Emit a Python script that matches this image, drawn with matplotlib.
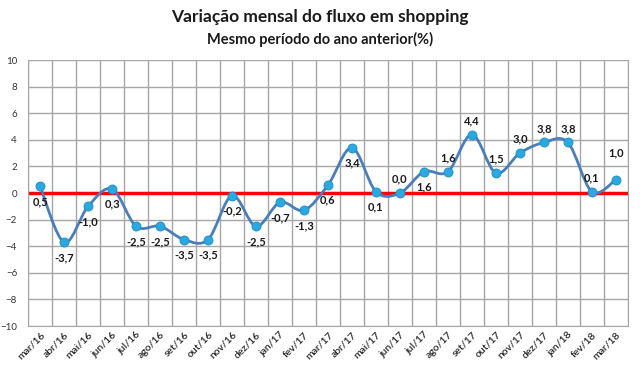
import matplotlib.pyplot as plt
import numpy as np
from matplotlib.path import Path
from matplotlib.patches import PathPatch

plt.rcParams['font.family'] = ['Lato', 'DejaVu Sans']

meses = ["mar/16", "abr/16", "mai/16", "jun/16", "jul/16", "ago/16", "set/16",
         "out/16", "nov/16", "dez/16", "jan/17", "fev/17", "mar/17", "abr/17",
         "mai/17", "jun/17", "jul/17", "ago/17", "set/17", "out/17", "nov/17",
         "dez/17", "jan/18", "fev/18", "mar/18"]
variacao = [0.5, -3.7, -1.0, 0.3, -2.5, -2.5, -3.5, -3.5, -0.2, -2.5, -0.7, -1.3,
            0.6, 3.4, 0.1, 0.0, 1.6, 1.6, 4.4, 1.5, 3.0, 3.8, 3.8, 0.1, 1.0]

# rotulos acima do ponto (os outros ficam abaixo)
acima = {"jun/17", "ago/17", "set/17", "out/17", "nov/17", "dez/17", "jan/18", "fev/18", "mar/18"}

fig = plt.figure(figsize=(6.4, 3.73), dpi=100)
ax = fig.add_axes([0.044, 0.126, 0.937, 0.713])

x = np.arange(len(meses))
y = np.array(variacao)

ax.set_xlim(-0.5, len(meses) - 0.5)
ax.set_ylim(-10, 10)
ax.set_yticks(np.arange(-10, 11, 2))
ax.set_xticks(x)
ax.set_xticklabels(meses, rotation=45, ha='right', rotation_mode='anchor', fontsize=7.5,
                   color='#262626', fontweight='semibold')
ax.tick_params(axis='y', labelsize=7, colors='#333333', length=0, pad=8)
ax.tick_params(axis='x', length=0, pad=3)

# grade
for b in np.arange(-0.5, len(meses), 1.0):
    ax.axvline(b, color='#a6a6a6', lw=1, zorder=0)
ax.grid(axis='y', color='#a6a6a6', lw=1, zorder=0)
for s in ax.spines.values():
    s.set_color('#a6a6a6')
ax.spines['top'].set_visible(False)

ax.axhline(0, color='#ff0000', lw=2.5, zorder=2)

# linha suavizada (bezier estilo Excel)
pts = np.column_stack([x, y])
verts = [tuple(pts[0])]
codes = [Path.MOVETO]
n = len(pts)
for i in range(n - 1):
    p0 = pts[max(i - 1, 0)]
    p1 = pts[i]
    p2 = pts[i + 1]
    p3 = pts[min(i + 2, n - 1)]
    c1 = p1 + (p2 - p0) / 6.0
    c2 = p2 - (p3 - p1) / 6.0
    verts += [tuple(c1), tuple(c2), tuple(p2)]
    codes += [Path.CURVE4] * 3
ax.add_patch(PathPatch(Path(verts, codes), fill=False, edgecolor='#4a7ebb', lw=2, zorder=3))

ax.plot(x, y, linestyle='none', marker='o', markersize=6.5, markerfacecolor='#2aa8e0',
        markeredgecolor='#1b8cc4', markeredgewidth=0.6, zorder=4)

for xi, yi, m in zip(x, y, meses):
    txt = f"{yi:.1f}".replace('.', ',')
    off = 10 if m in acima else -11
    if m == "mar/18":
        off = 19
    ax.annotate(txt, (xi, yi), xytext=(0, off), textcoords='offset points',
                ha='center', va='center', fontsize=8, fontweight='bold', color='#1a1a1a', zorder=5)

fig.text(0.5, 0.955, "Variação mensal do fluxo em shopping", ha='center', va='center',
         fontsize=12.5, fontweight='bold', color='#1a1a1a')
fig.text(0.5, 0.895, "Mesmo período do ano anterior(%)", ha='center', va='center',
         fontsize=10.5, fontweight='bold', color='#1a1a1a')

fig.savefig("out.png", dpi=100)
